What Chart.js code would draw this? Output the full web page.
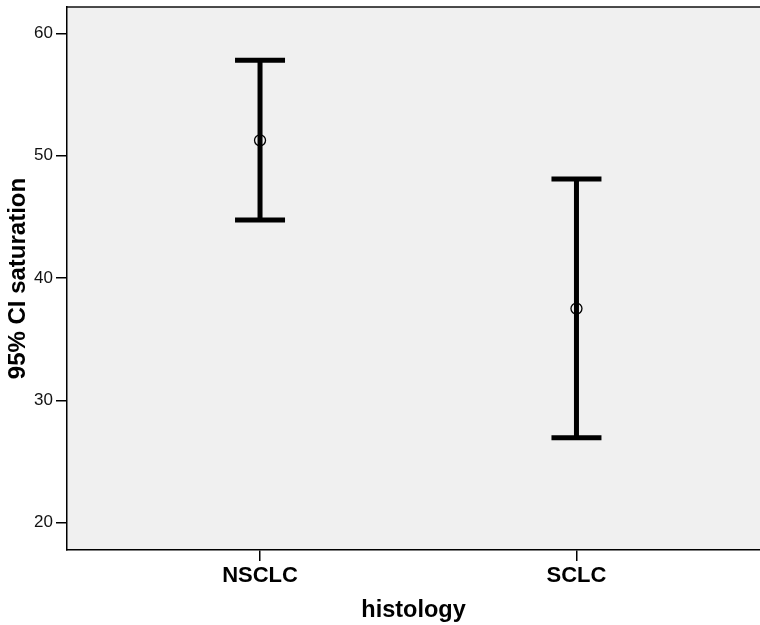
<!DOCTYPE html>
<html>
<head>
<meta charset="utf-8">
<script src="https://cdn.jsdelivr.net/npm/chart.js@4"></script>
<style>
  body { margin: 0; background: #fff; }
  #wrap { width: 760px; height: 625px; }
</style>
</head>
<body>
<div id="wrap"><canvas id="grafico" width="760" height="625"></canvas></div>
<script>
// dados
const categories = ["NSCLC", "SCLC"];
const catPos = [1, 2];
const means = [51.25, 37.5];
const lower = [44.75, 26.95];
const upper = [57.8, 48.1];
const yTicks = [20, 30, 40, 50, 60];

// fundo cinza + borda de cima
const plotBg = {
  id: "plotBg",
  beforeDraw(chart) {
    const { ctx, chartArea: a } = chart;
    ctx.save();
    ctx.fillStyle = "#F0F0F0";
    ctx.fillRect(a.left, a.top, a.right - a.left, a.bottom - a.top);
    ctx.strokeStyle = "#111";
    ctx.lineWidth = 1.5;
    ctx.beginPath();
    ctx.moveTo(a.left, a.top);
    ctx.lineTo(a.right, a.top);
    ctx.stroke();
    ctx.restore();
  },
};

// barras de erro (IC 95%)
const errorBars = {
  id: "errorBars",
  beforeDatasetsDraw(chart) {
    const { ctx, scales } = chart;
    const capHalf = 25;
    ctx.save();
    ctx.strokeStyle = "#000";
    ctx.lineWidth = 5;
    ctx.lineCap = "butt";
    catPos.forEach((c, i) => {
      const x = scales.x.getPixelForValue(c);
      const yTop = scales.y.getPixelForValue(upper[i]);
      const yBot = scales.y.getPixelForValue(lower[i]);
      ctx.beginPath();
      ctx.moveTo(x, yTop);
      ctx.lineTo(x, yBot);
      ctx.moveTo(x - capHalf, yTop);
      ctx.lineTo(x + capHalf, yTop);
      ctx.moveTo(x - capHalf, yBot);
      ctx.lineTo(x + capHalf, yBot);
      ctx.stroke();
    });
    ctx.restore();
  },
};

const ctx = document.getElementById("grafico").getContext("2d");
const myChart = new Chart(ctx, {
  type: "scatter",
  data: {
    datasets: [
      {
        data: catPos.map((c, i) => ({ x: c, y: means[i] })),
        pointStyle: "circle",
        pointRadius: 5.5,
        borderWidth: 1.3,
        borderColor: "#000",
        backgroundColor: "rgba(0,0,0,0)",
      },
    ],
  },
  options: {
    responsive: false,
    animation: false,
    events: [],
    layout: { autoPadding: false, padding: { top: 7, left: 0, right: 0, bottom: 0 } },
    plugins: { legend: { display: false }, tooltip: { enabled: false } },
    scales: {
      x: {
        type: "linear",
        min: 0.39,
        max: 2.58,
        afterBuildTicks: (s) => { s.ticks = catPos.map((v) => ({ value: v })); },
        afterFit: (s) => { s.height = 75; s.paddingLeft = 0; s.paddingRight = 0; },
        ticks: {
          callback: (v) => categories[catPos.indexOf(v)],
          color: "#000",
          padding: 2,
          font: { family: "'Liberation Sans', Arial", size: 22, weight: "bold" },
        },
        grid: { drawOnChartArea: false, drawTicks: true, tickLength: 11, color: "#000", lineWidth: 1.5 },
        border: { display: true, color: "#000", width: 1.5 },
        title: {
          display: true,
          text: "histology",
          color: "#000",
          padding: { top: 0, bottom: 0 },
          font: { family: "'Liberation Sans', Arial", size: 23.5, weight: "bold" },
        },
      },
      y: {
        min: 17.77,
        max: 62.15,
        afterBuildTicks: (s) => { s.ticks = yTicks.map((v) => ({ value: v })); },
        afterFit: (s) => { s.width = 67; s.paddingTop = 0; s.paddingBottom = 0; },
        ticks: {
          color: "#111",
          padding: 3,
          font: { family: "'Liberation Sans', Arial", size: 17 },
        },
        grid: { drawOnChartArea: false, drawTicks: true, tickLength: 11, color: "#000", lineWidth: 1.5 },
        border: { display: true, color: "#000", width: 1.5 },
        title: {
          display: true,
          text: "95% CI saturation",
          color: "#000",
          padding: { top: 4, bottom: 0 },
          font: { family: "'Liberation Sans', Arial", size: 24, weight: "bold" },
        },
      },
    },
  },
  plugins: [plotBg, errorBars],
});
</script>
</body>
</html>
